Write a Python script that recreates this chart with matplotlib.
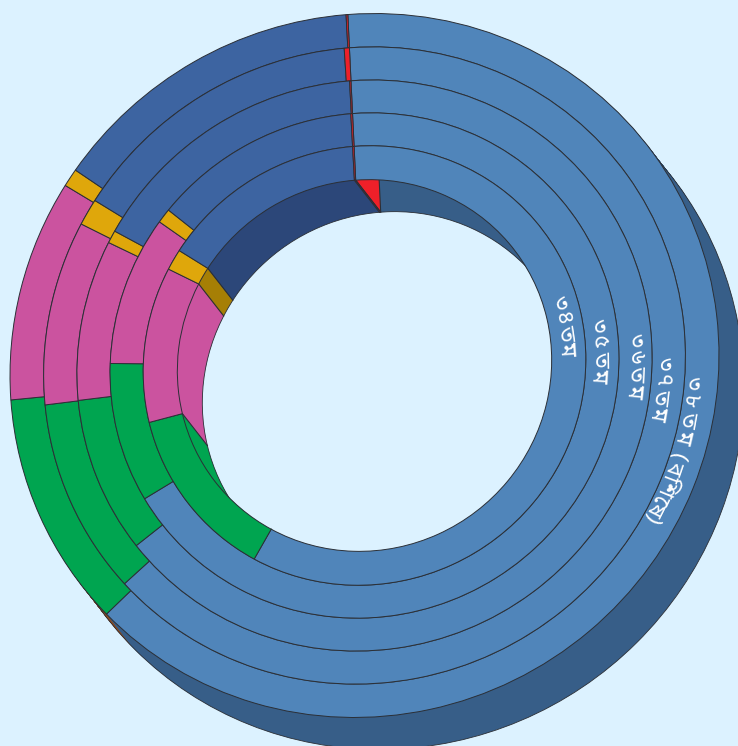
import matplotlib
matplotlib.use('Agg')
from matplotlib import pyplot as plt
from matplotlib.patches import Circle
from matplotlib.transforms import Affine2D
import numpy as np

# percent shares per ring, outer ring first
ring_labels = ['৩৮তম (বিশেষ)', '৩৭তম', '৩৬তম', '৩৫তম', '৩৪তম']
steel = [63.73, 64.19, 65.34, 67.36, 59.06]
green = [10.92, 10.03, 8.91, 8.97, 12.98]
pink = [10.11, 9.3, 9.04, 9.5, 11.4]
gold = [0.82, 1.34, 0.71, 0.92, 1.53]
navy = [14.35, 14.87, 15.92, 13.14, 14.93]
red = [0.08, 0.26, 0.08, 0.11, 0.11]

face_colours = ['#5085ba', '#00a550', '#cb539f', '#dfa70b', '#3d64a1', '#ee2029']
inner_wall = ['#375e88', '#00a550', '#cb539f', '#a67f05', '#2c4779', '#ee2029']
outer_wall = ['#375e88', '#8a4a20', '#cb539f', '#a67f05', '#2c4779', '#ee2029']
edge = '#2b2f36'
bg = '#dcf2ff'

cx, cy = 364.5, 380.5
dx, dy = 25, -32
radii = np.array([353.2, 319.7, 286.5, 253.5, 220.5, 186.5]) * 1.0147
start = -3.51
squash = 0.971

# where each word of a label runs on its ring, degrees clockwise from the top
label_spans = [[(93.9, 103.2), (106.9, 118.6)], [(90.5, 100)], [(85.4, 96.1)],
               [(81.1, 93.3)], [(72.9, 85.9)]]
label_shift = [-9, -6, 0, -3, -2]

fig = plt.figure(figsize=(7.38, 7.46), dpi=100, facecolor=bg)
ax = fig.add_axes([0, 0, 1, 1])

# the disk is tilted away along the depth direction
phi = np.degrees(np.arctan2(dy, dx))
tilt = Affine2D().rotate_deg(-phi).scale(squash, 1).rotate_deg(phi)


def ring(vals, radius, width, colours, centre, **kw):
    wedges, _ = ax.pie(vals, radius=radius, colors=colours, startangle=90 - start,
                       counterclock=False, wedgeprops=dict(width=width, **kw))
    tr = tilt + Affine2D().translate(*centre) + ax.transData
    for w in wedges:
        w.set_transform(tr)


def clock_xy(theta, r, c):
    t = np.radians(theta)
    x, y = tilt.transform((r * np.sin(t), r * np.cos(t)))
    return c[0] + x, c[1] + y


rows = np.array([steel, green, pink, gold, navy, red]).T
front = (cx, cy)
back = (cx + dx, cy + dy)

# side walls, painted from the back to the front
steps = 40
for i in range(steps, 0, -1):
    c = (cx + dx * i / steps, cy + dy * i / steps)
    ring(rows[0], radii[0], 4, outer_wall, c, linewidth=0)
    ring(rows[-1], radii[-1] + 4, 4, inner_wall, c, linewidth=0)

for r in (radii[0], radii[-1]):
    ax.add_patch(Circle((0, 0), r, fill=False, ec=edge, lw=0.6,
                        transform=tilt + Affine2D().translate(*back) + ax.transData))

# cut face of the last slice where the ring starts
x0, y0 = clock_xy(start, radii[-1], front)
x1, y1 = clock_xy(start, radii[-1], back)
x2, y2 = clock_xy(start, radii[-1] + 60, back)
x3, y3 = clock_xy(start, radii[-1] + 60, front)
ax.fill([x0, x1, x2, x3], [y0, y1, y2, y3], color=face_colours[-1], ec=edge, lw=0.8, zorder=1)

# wall seams
bounds = start + np.cumsum(rows[-1]) / rows[-1].sum() * 360
for b in bounds:
    xa, ya = clock_xy(b, radii[-1], front)
    xb, yb = clock_xy(b, radii[-1], back)
    ax.plot([xa, xb], [ya, yb], color=edge, lw=0.8, zorder=1)

# top faces
for k in range(5):
    ring(rows[k], radii[k], radii[k] - radii[k + 1], face_colours, front,
         edgecolor=edge, linewidth=0.7)

# labels follow the arc one sign at a time
families = ['Noto Sans Bengali', 'Noto Sans', 'DejaVu Sans']
for k, label in enumerate(ring_labels):
    mid = (radii[k] + radii[k + 1]) / 2 + label_shift[k]
    for word, span in zip(label.split(' '), label_spans[k]):
        angles = np.linspace(span[0], span[1], len(word))
        for ch, a in zip(word, angles):
            x, y = clock_xy(a, mid, front)
            ax.text(x, y, ch, color='white', fontsize=16, rotation=-a, rotation_mode='anchor',
                    ha='center', va='center', family=families)

ax.set_xlim(0, 738)
ax.set_ylim(0, 746)
ax.set_aspect('auto')
ax.axis('off')
fig.savefig('out.png', dpi=100, facecolor=bg)
